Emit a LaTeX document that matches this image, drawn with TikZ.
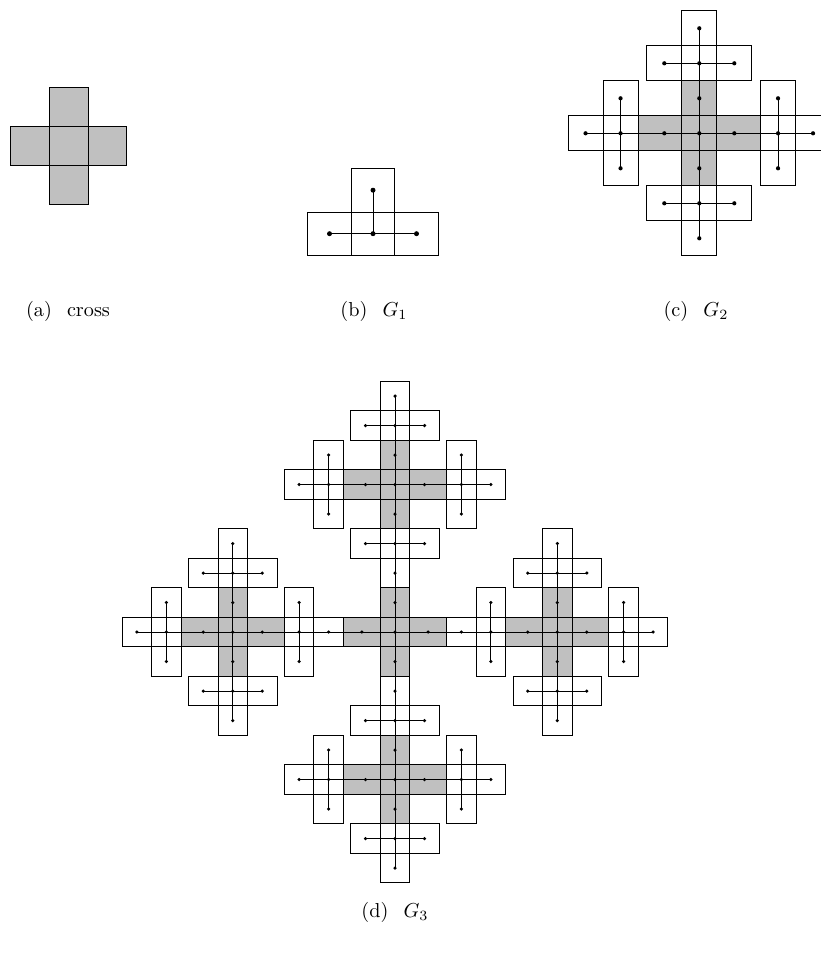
\documentclass[tikz,border=0pt]{standalone}
\usepackage{xcolor}
\usepackage{amsmath,amssymb}
\usepackage{tikz}
\definecolor{CrossGray}{HTML}{C0C0C0}

\pgfdeclarelayer{boxes}
\pgfdeclarelayer{edges}
\pgfsetlayers{boxes,edges,main}

\tikzset{
  boxline/.style={draw=black,line width=0.8pt},
  edge/.style={line width=0.8pt},
  vtx/.style={circle,fill=black,inner sep=0pt,minimum size=4pt},
  dots/.style={vtx/.append style={minimum size=#1}},
  caption/.style={scale=2.02}
}

% one T (stem up before rotating): #1 name, #2,#3 centre, #4 angle
\newcommand{\drawtee}[4]{%
  \begin{scope}[shift={(#2,#3)},rotate=#4]
    \begin{pgfonlayer}{boxes}
      \draw[boxline] (-0.5,-1.5) rectangle (0.5,0.5);
      \draw[boxline] (-1.5,-0.5) rectangle (1.5,0.5);
    \end{pgfonlayer}
    \node[vtx] (#1-s) at (0,-1) {};
    \node[vtx] (#1-l) at (-1,0) {};
    \node[vtx] (#1-r) at (1,0) {};
    \node[vtx] (#1-c) at (0,0) {};
    \begin{pgfonlayer}{edges}
      \draw[edge] (#1-c.center) -- (#1-s.center) (#1-l.center) -- (#1-r.center);
    \end{pgfonlayer}
  \end{scope}}

% gray cross of G2 and G3
\newcommand{\drawgray}{%
  \begin{pgfonlayer}{boxes}
    \fill[CrossGray] (-1.75,-0.5) rectangle (1.75,0.5) (-0.5,-1.5) rectangle (0.5,1.5);
    \draw[boxline] (-1.75,-0.5) rectangle (1.75,0.5) (-0.5,-1.5) rectangle (0.5,1.5);
  \end{pgfonlayer}}

% G2: gray cross with four T's round it
\newcommand{\drawgtwo}[3]{%
  \begin{scope}[shift={(#2,#3)}]
    \drawgray
    \drawtee{#1-tn}{0}{-2}{0}
    \drawtee{#1-ts}{0}{2}{180}
    \drawtee{#1-tw}{-2.25}{0}{90}
    \drawtee{#1-te}{2.25}{0}{-90}
    \node[vtx] (#1-n) at (0,-1) {};
    \node[vtx] (#1-s) at (0,1) {};
    \node[vtx] (#1-w) at (-1,0) {};
    \node[vtx] (#1-e) at (1,0) {};
    \node[vtx] (#1-c) at (0,0) {};
    \begin{pgfonlayer}{edges}
      \draw[edge] (#1-tn-c.center) -- (#1-ts-c.center)
                  (#1-tw-c.center) -- (#1-te-c.center);
    \end{pgfonlayer}
  \end{scope}}

% G3: gray cross with four G2's round it
\newcommand{\drawgthree}[3]{%
  \begin{scope}[shift={(#2,#3)}]
    \drawgray
    \drawgtwo{#1-gn}{0}{-5}
    \drawgtwo{#1-gs}{0}{5}
    \drawgtwo{#1-gw}{-5.5}{0}
    \drawgtwo{#1-ge}{5.5}{0}
    \node[vtx] (#1-n) at (0,-1) {};
    \node[vtx] (#1-s) at (0,1) {};
    \node[vtx] (#1-w) at (-1.125,0) {};
    \node[vtx] (#1-e) at (1.125,0) {};
    \node[vtx] (#1-c) at (0,0) {};
    \begin{pgfonlayer}{edges}
      \draw[edge] (#1-gn-ts-s.center) -- (#1-gs-tn-s.center)
                  (#1-gw-te-s.center) -- (#1-ge-tw-s.center);
    \end{pgfonlayer}
  \end{scope}}

\begin{document}
\begin{tikzpicture}[x=1pt,y=-1pt]
\useasboundingbox (0,0) rectangle (820,953);

% (a) the cross
\begin{scope}[shift={(68.5,146)},scale=38.8]
\fill[CrossGray] (-1.5,-0.5) rectangle (1.5,0.5) (-0.5,-1.5) rectangle (0.5,1.5);
\draw[boxline] (-1.5,-0.5) rectangle (1.5,0.5) (-0.5,-1.5) rectangle (0.5,1.5);
\end{scope}

% (b) G1
\begin{scope}[shift={(373,233.7)},scale=43.5,dots=5pt]
\drawtee{g1}{0}{0}{0}
\end{scope}

% (c) G2
\begin{scope}[shift={(699.3,133.3)},scale=35,dots=4.2pt]
\drawgtwo{g2}{0}{0}
\end{scope}

% (d) G3
\begin{scope}[shift={(395,632)},scale=29.5,dots=3.5pt]
\drawgthree{g3}{0}{0}
\end{scope}

\node[caption] (capa) at (68,311) {(a)\hspace{0.75em}cross};
\node[caption] (capb) at (374,311) {(b)\hspace{0.75em}$G_1$};
\node[caption] (capc) at (696,311) {(c)\hspace{0.75em}$G_2$};
\node[caption] (capd) at (395,912) {(d)\hspace{0.75em}$G_3$};
\end{tikzpicture}
\end{document}
